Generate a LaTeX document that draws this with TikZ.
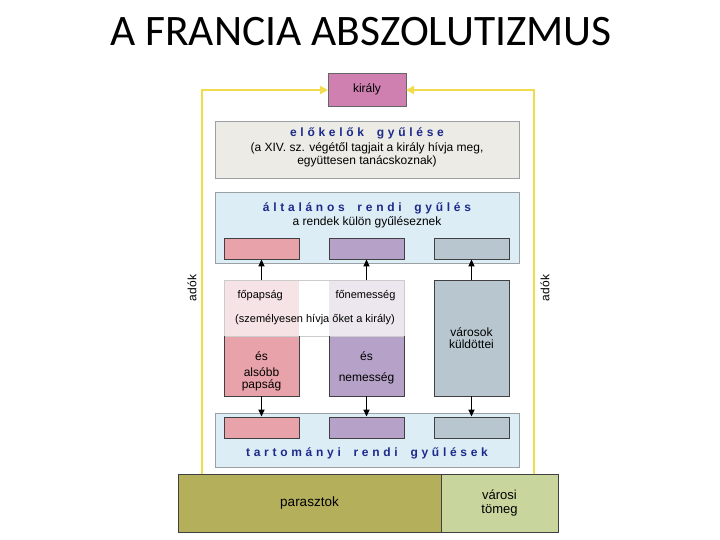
\documentclass[tikz,border=0pt]{standalone}
\usepackage{fontspec}
\setmainfont{Liberation Sans}
\newfontfamily\titlefont{Carlito}
\newfontfamily\spacedfont[LetterSpace=31,WordSpace=1.8]{Liberation Sans}
\usetikzlibrary{arrows.meta}
\definecolor{kirfill}{HTML}{CF80B0}
\definecolor{elofill}{HTML}{ECEBE5}
\definecolor{altfill}{HTML}{DDEDF5}
\definecolor{pinkc}{HTML}{E8A2AA}
\definecolor{purpc}{HTML}{B6A2C8}
\definecolor{grayc}{HTML}{B8C7CF}
\definecolor{pinkl}{HTML}{F6E3E5}
\definecolor{purpl}{HTML}{ECE7EF}
\definecolor{olive}{HTML}{B4AF5A}
\definecolor{lgreen}{HTML}{C8D59C}
\definecolor{yel}{HTML}{F3DB4E}
\definecolor{navy}{HTML}{1C2A8C}
\definecolor{edgec}{HTML}{9AA0A4}
\begin{document}
\begin{tikzpicture}[x=1pt,y=-1pt,
  panel/.style={draw=edgec,line width=0.8pt},
  cbox/.style={draw=black!75,line width=0.8pt},
  ttl/.style={font=\spacedfont\bfseries\fontsize{12}{13}\selectfont,text=navy},
  txt/.style={font=\fontsize{11}{12}\selectfont,align=center},
  ctxt/.style={font=\fontsize{12}{12}\selectfont,align=center},
  htxt/.style={font=\fontsize{12}{13}\selectfont,align=center},
  upar/.style={-{Triangle[length=7pt,width=6pt]},line width=1.3pt},
  yarr/.style={-{Triangle[length=8pt,width=8pt]},draw=yel,line width=2.5pt}]
\useasboundingbox (0,0) rectangle (720,540);
\fill[white] (0,0) rectangle (720,540);
\node[font=\titlefont\fontsize{43.5}{48}\selectfont] (title) at (361,32) {A FRANCIA ABSZOLUTIZMUS};

% bottom boxes
\draw[cbox,fill=olive] (178,474) rectangle (441,532);
\draw[cbox,fill=lgreen] (441,474) rectangle (558,532);
\node[font=\fontsize{13.5}{14}\selectfont] (par) at (309.5,503) {parasztok};
\node[align=center,font=\fontsize{13}{13.5}\selectfont] (var) at (499.5,503) {városi\\tömeg};
\coordinate (ylb) at (202,474);
\coordinate (yrb) at (534,474);
\coordinate (ylt) at (202,90);
\coordinate (yrt) at (534,90);

% király
\draw[cbox,draw=black!60,fill=kirfill] (328,73) rectangle (406,106);
\node[ctxt] (kir) at (367,89.5) {király};
\coordinate (kirL) at (328,90);
\coordinate (kirR) at (406,90);
\draw[yarr] (ylb) -- (ylt) -- (kirL);
\draw[yarr] (yrb) -- (yrt) -- (kirR);

% előkelők
\draw[panel,fill=elofill] (215,121) rectangle (519,178);
\node[ttl] (elo) at (367,133) {előkelők gyűlése};
\node[htxt] (elos) at (367,155) {(a XIV. sz. végétől tagjait a király hívja meg,\\együttesen tanácskoznak)};

% általános
\draw[panel,fill=altfill] (215,192) rectangle (519,263);
\node[ttl] (alt) at (367,208) {általános rendi gyűlés};
\node[htxt] (alts) at (367,222) {a rendek külön gyűléseznek};
\node[cbox,fill=pinkc,minimum width=75pt,minimum height=21pt,inner sep=0] (a1) at (261.5,248.5) {};
\node[cbox,fill=purpc,minimum width=75pt,minimum height=21pt,inner sep=0] (a2) at (366.5,248.5) {};
\node[cbox,fill=grayc,minimum width=75pt,minimum height=21pt,inner sep=0] (a3) at (471.5,248.5) {};

% tartományi
\draw[panel,fill=altfill] (215,413) rectangle (519,467);
\node[cbox,fill=pinkc,minimum width=75pt,minimum height=21pt,inner sep=0] (t1) at (261.5,427.5) {};
\node[cbox,fill=purpc,minimum width=75pt,minimum height=21pt,inner sep=0] (t2) at (366.5,427.5) {};
\node[cbox,fill=grayc,minimum width=75pt,minimum height=21pt,inner sep=0] (t3) at (471.5,427.5) {};
\node[ttl] (tar) at (367,453.5) {tartományi rendi gyűlések};

% columns
\fill[pinkc] (224,336) rectangle (299,396);
\fill[purpc] (329,336) rectangle (404,396);
\fill[pinkl] (224,280) rectangle (299,336);
\fill[purpl] (329,280) rectangle (404,336);
\draw[black!20,line width=0.6pt] (224,280) rectangle (404,336);
\draw[cbox] (224,336) -- (224,396) -- (299,396) -- (299,336);
\draw[cbox] (329,336) -- (329,396) -- (404,396) -- (404,336);
\node[cbox,fill=grayc,minimum width=75pt,minimum height=116pt,inner sep=0] (c3) at (471.5,338) {};
\coordinate (c1t) at (261.5,280);
\coordinate (c2t) at (366.5,280);
\coordinate (c1b) at (261.5,396);
\coordinate (c2b) at (366.5,396);
\node[txt,anchor=west] (fop) at (234,296) {főpapság};
\node[txt,anchor=west] (fon) at (332,296) {főnemesség};
\node[txt] (szem) at (315,320) {(személyesen hívja őket a király)};
\node[ctxt] (es1) at (261.5,356) {és};
\node[ctxt] (als) at (261.5,379) {alsóbb\\papság};
\node[ctxt] (es2) at (366.5,356) {és};
\node[ctxt] (nem) at (366.5,378) {nemesség};
\node[ctxt] (vk) at (471.5,338.5) {városok\\küldöttei};

\draw[upar] (c1t) -- (a1);
\draw[upar] (c2t) -- (a2);
\draw[upar] (c3.north) -- (a3);
\draw[upar] (c1b) -- (t1);
\draw[upar] (c2b) -- (t2);
\draw[upar] (c3.south) -- (t3);

\node[ctxt,rotate=90] (adl) at (192,288) {adók};
\node[ctxt,rotate=90] (adr) at (545,288) {adók};
\end{tikzpicture}
\end{document}
